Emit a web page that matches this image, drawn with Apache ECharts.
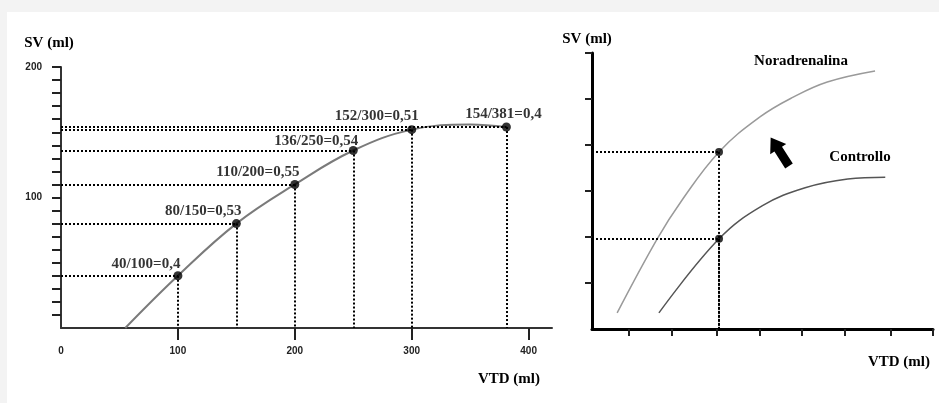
<!DOCTYPE html>
<html>
<head>
<meta charset="utf-8">
<script src="https://cdn.jsdelivr.net/npm/echarts@6/dist/echarts.min.js"></script>
<style>
  html, body { margin: 0; padding: 0; background: #fff; }
  #chart { width: 939px; height: 403px; }
</style>
</head>
<body>
<div id="chart"></div>
<script>
// pannello sinistro: SV in funzione di VTD
const curveVTD = [55, 100, 150, 200, 250, 300, 350, 381];
const curveSV = [0, 40, 80, 110, 136, 152, 156, 154];
const pointVTD = [100, 150, 200, 250, 300, 381];
const pointSV = [40, 80, 110, 136, 152, 154];
const pointLabels = ['40/100=0,4', '80/150=0,53', '110/200=0,55', '136/250=0,54', '152/300=0,51', '154/381=0,4'];
const leftXTicks = [100, 200, 300, 400];
const leftXLabels = [0, 100, 200, 300, 400];
const leftYTicks = [10, 20, 30, 40, 50, 60, 70, 80, 90, 100, 110, 120, 130, 140, 150, 160, 170, 180, 190, 200];
const leftYLabels = [100, 200];

// pannello destro (unita' arbitrarie, senza numeri)
const noraX = [0.59, 1.53, 2.11, 2.98, 3.94, 4.72, 5.52, 6.64];
const noraY = [0.35, 1.96, 2.80, 3.85, 4.61, 5.04, 5.37, 5.61];
const contrX = [1.57, 2.98, 4.0, 5.0, 6.0, 6.88];
const contrY = [0.35, 1.96, 2.68, 3.07, 3.26, 3.30];
const markX = [2.98, 2.98];
const markY = [3.85, 1.96];
const rightXTicks = [0.87, 1.88, 2.93, 3.94, 4.93, 5.94, 7.02, 8];
const rightYTicks = [1, 2, 3, 4, 5, 6];

// spostamento delle etichette rispetto al punto [dx, dy]
const labelShift = [[-32, 0], [-33, 0], [-37, 0], [-37, 3], [-35, -2], [-3, -1]];

const serifBold = { fontFamily: 'Liberation Serif', fontWeight: 'bold', fontSize: 15, color: '#000' };
const dotLine = { color: '#000', type: [2, 2], width: 2 };

function pairs (xs, ys) {
  return xs.map((x, i) => [x, ys[i]]);
}

// linee tratteggiate dal punto agli assi
function guideLines (xs, ys) {
  let lines = [];
  xs.forEach((x, i) => {
    lines.push([{ coord: [0, ys[i]] }, { coord: [x, ys[i]] }]);
    lines.push([{ coord: [x, ys[i]] }, { coord: [x, 0] }]);
  });
  return lines;
}

const chart = echarts.init(document.getElementById('chart'));

chart.setOption({
  backgroundColor: '#f3f3f3',
  animation: false,
  grid: [
    { left: 61, top: 67, width: 491, height: 261 },
    { left: 592, top: 53, width: 341, height: 276 }
  ],
  xAxis: [{
    gridIndex: 0,
    type: 'value',
    min: 0,
    max: 420,
    splitLine: { show: false },
    axisLine: { lineStyle: { color: '#333', width: 2 } },
    axisTick: { length: 12, customValues: leftXTicks, lineStyle: { color: '#222', width: 2 } },
    axisLabel: {
      customValues: leftXLabels, margin: 18,
      fontFamily: 'Liberation Sans', fontWeight: 'bold', fontSize: 10, color: '#222'
    },
    name: 'VTD (ml)',
    nameLocation: 'end',
    nameGap: -12,
    nameTextStyle: Object.assign({}, serifBold, { align: 'right', verticalAlign: 'top', padding: [44, 0, 0, 0] })
  }, {
    gridIndex: 1,
    type: 'value',
    min: 0,
    max: 8,
    splitLine: { show: false },
    axisLine: { lineStyle: { color: '#000', width: 3 } },
    axisTick: { length: 7, customValues: rightXTicks, lineStyle: { color: '#222', width: 2 } },
    axisLabel: { show: false },
    name: 'VTD (ml)',
    nameLocation: 'end',
    nameGap: -3,
    nameTextStyle: Object.assign({}, serifBold, { align: 'right', verticalAlign: 'top', padding: [26, 0, 0, 0] })
  }],
  yAxis: [{
    gridIndex: 0,
    type: 'value',
    min: 0,
    max: 200,
    splitLine: { show: false },
    axisLine: { lineStyle: { color: '#333', width: 2 } },
    axisTick: { length: 9, customValues: leftYTicks, lineStyle: { color: '#222', width: 2 } },
    axisLabel: {
      customValues: leftYLabels, margin: 19,
      fontFamily: 'Liberation Sans', fontWeight: 'bold', fontSize: 10, color: '#222'
    },
    name: 'SV (ml)',
    nameLocation: 'end',
    nameGap: 16,
    nameTextStyle: Object.assign({}, serifBold, { align: 'center', padding: [0, 24, 0, 0] })
  }, {
    gridIndex: 1,
    type: 'value',
    min: 0,
    max: 6,
    splitLine: { show: false },
    axisLine: { lineStyle: { color: '#000', width: 3 } },
    axisTick: { length: 7, customValues: rightYTicks, lineStyle: { color: '#222', width: 2 } },
    axisLabel: { show: false },
    name: 'SV (ml)',
    nameLocation: 'end',
    nameGap: 6,
    nameTextStyle: Object.assign({}, serifBold, { align: 'center', padding: [0, 10, 0, 0] })
  }],
  graphic: [
    { type: 'rect', z: -10, shape: { x: 7, y: 12, width: 932, height: 391 }, style: { fill: '#fff' } },
    {
      type: 'text', x: 801, y: 61,
      style: { text: 'Noradrenalina', font: 'bold 15px "Liberation Serif"', fill: '#000', align: 'center', verticalAlign: 'middle' }
    },
    {
      type: 'text', x: 860, y: 157,
      style: { text: 'Controllo', font: 'bold 15px "Liberation Serif"', fill: '#000', align: 'center', verticalAlign: 'middle' }
    },
    {
      // freccia verso l'alto a sinistra
      type: 'polygon', x: 789, y: 166, rotation: 0.57,
      shape: { points: [[-4.5, 0], [4.5, 0], [4.5, -20], [9.5, -20], [0, -34], [-9.5, -20], [-4.5, -20]] },
      style: { fill: '#000' }
    }
  ],
  series: [{
    type: 'line',
    xAxisIndex: 0,
    yAxisIndex: 0,
    data: pairs(curveVTD, curveSV),
    smooth: 0.4,
    showSymbol: false,
    lineStyle: { color: '#7a7a7a', width: 2 }
  }, {
    type: 'scatter',
    xAxisIndex: 0,
    yAxisIndex: 0,
    symbolSize: 9,
    itemStyle: { color: '#000' },
    data: pointVTD.map((x, i) => ({
      value: [x, pointSV[i]],
      label: {
        show: true,
        position: 'top',
        distance: 0,
        offset: labelShift[i],
        formatter: pointLabels[i],
        ...serifBold
      }
    })),
    markLine: {
      silent: true,
      symbol: 'none',
      label: { show: false },
      lineStyle: dotLine,
      data: guideLines(pointVTD, pointSV)
    },
    z: 3
  }, {
    name: 'Noradrenalina',
    type: 'line',
    xAxisIndex: 1,
    yAxisIndex: 1,
    data: pairs(noraX, noraY),
    smooth: 0.4,
    showSymbol: false,
    lineStyle: { color: '#9a9a9a', width: 1.5 }
  }, {
    name: 'Controllo',
    type: 'line',
    xAxisIndex: 1,
    yAxisIndex: 1,
    data: pairs(contrX, contrY),
    smooth: 0.4,
    showSymbol: false,
    lineStyle: { color: '#555', width: 1.5 }
  }, {
    type: 'scatter',
    xAxisIndex: 1,
    yAxisIndex: 1,
    symbolSize: 8,
    itemStyle: { color: '#000' },
    data: pairs(markX, markY),
    markLine: {
      silent: true,
      symbol: 'none',
      label: { show: false },
      lineStyle: dotLine,
      data: guideLines(markX, markY)
    },
    z: 3
  }]
});
</script>
</body>
</html>
